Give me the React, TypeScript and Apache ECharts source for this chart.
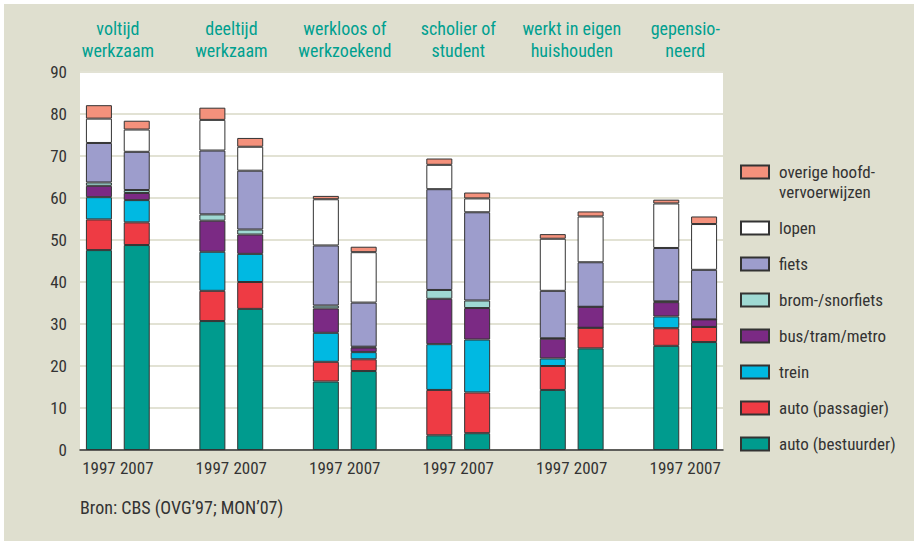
import React, { useEffect, useRef } from "react";
import * as echarts from "echarts";

const groupTitles = [
  "voltijd\nwerkzaam",
  "deeltijd\nwerkzaam",
  "werkloos of\nwerkzoekend",
  "scholier of\nstudent",
  "werkt in eigen\nhuishouden",
  "gepensio-\nneerd",
];
const years = ["1997", "2007"];

// bars: V97, V07, D97, D07, W97, W07, S97, S07, H97, H07, G97, G07
const autoBestuurder = [47.6, 48.8, 30.7, 33.6, 16.3, 18.8, 3.5, 4.0, 14.3, 24.2, 24.8, 25.7];
const autoPassagier = [7.3, 5.4, 7.2, 6.4, 4.7, 2.8, 10.8, 9.7, 5.7, 4.9, 4.2, 3.6];
const trein = [5.3, 5.3, 9.3, 6.7, 6.9, 1.7, 10.9, 12.6, 1.8, 0, 2.8, 0];
const busTramMetro = [2.7, 1.7, 7.4, 4.6, 5.8, 1.1, 10.8, 7.5, 4.7, 5.0, 3.4, 1.8];
const bromSnorfiets = [0.8, 0.7, 1.5, 1.2, 0.7, 0.2, 2.1, 1.8, 0.1, 0, 0.2, 0];
const fiets = [9.4, 9.1, 15.2, 14.0, 14.3, 10.5, 24.0, 21.0, 11.3, 10.6, 12.7, 11.8];
const lopen = [5.8, 5.3, 7.3, 5.7, 11.0, 12.0, 5.8, 3.3, 12.4, 10.9, 10.6, 10.9];
const overige = [3.2, 2.1, 2.9, 2.1, 0.8, 1.3, 1.5, 1.4, 1.1, 1.2, 0.9, 1.8];

const seriesDefs = [
  { name: "auto (bestuurder)", data: autoBestuurder, color: "#009b8e" },
  { name: "auto (passagier)", data: autoPassagier, color: "#ee3b44" },
  { name: "trein", data: trein, color: "#00b9e2" },
  { name: "bus/tram/metro", data: busTramMetro, color: "#7b2a84" },
  { name: "brom-/snorfiets", data: bromSnorfiets, color: "#9fd9d3" },
  { name: "fiets", data: fiets, color: "#9d9dcc" },
  { name: "lopen", data: lopen, color: "#ffffff" },
  { name: "overige hoofd-\nvervoerwijzen", data: overige, color: "#f4917c" },
];

const FONT = "'Liberation Sans Narrow', 'Roboto Condensed', 'DejaVu Sans Condensed', 'Liberation Sans', sans-serif";

// build category slots: 1997, 2007, gap, ...
const bottomCats: string[] = [];
const topCats: string[] = [];
groupTitles.forEach((t, g) => {
  bottomCats.push(years[0], years[1]);
  topCats.push(t, "");
  if (g < groupTitles.length - 1) {
    bottomCats.push("");
    topCats.push("");
  }
});

function expand(vals: number[]): (number | string)[] {
  const out: (number | string)[] = [];
  for (let g = 0; g < groupTitles.length; g++) {
    out.push(vals[2 * g], vals[2 * g + 1]);
    if (g < groupTitles.length - 1) out.push("-");
  }
  return out;
}

export default function App() {
  const ref = useRef<HTMLDivElement>(null);
  useEffect(() => {
    if (!ref.current) return;
    const chart = echarts.init(ref.current, null, { renderer: "svg" });
    const legendOrder = [...seriesDefs].reverse();
    chart.setOption({
      animation: false,
      backgroundColor: "#ffffff",
      textStyle: { fontFamily: FONT },
      graphic: [
        {
          type: "rect",
          z: -10,
          shape: { x: 4, y: 4, width: 910, height: 537 },
          style: { fill: "#dfdfcf" },
          silent: true,
        },
        {
          type: "text",
          left: 80,
          top: 498,
          style: {
            text: "Bron: CBS (OVG\u201997; MON\u201907)",
            fill: "#333333",
            font: `18px ${FONT}`,
          },
        },
      ],
      grid: {
        left: 80,
        top: 72,
        width: 643,
        height: 378,
        show: true,
        backgroundColor: "#ffffff",
        borderWidth: 0,
      },
      legend: {
        orient: "vertical",
        left: 740,
        top: 142,
        padding: 0,
        itemWidth: 28,
        itemHeight: 13,
        itemGap: 16,
        icon: "rect",
        selectedMode: false,
        formatter: (name: string) => (name.indexOf("\n") >= 0 ? "\n" + name : name),
        textStyle: {
          fontFamily: FONT,
          fontSize: 17,
          color: "#333333",
          lineHeight: 20,
          padding: [0, 0, 0, 5],
        },
        data: legendOrder.map((s) => ({ name: s.name })),
      },
      xAxis: [
        {
          type: "category",
          data: bottomCats,
          position: "bottom",
          axisLine: { lineStyle: { color: "#333333", width: 1.5 } },
          axisTick: { interval: 0, length: 6, lineStyle: { color: "#333333", width: 1.5 } },
          axisLabel: { interval: 0, margin: 9, fontSize: 17, color: "#333333", fontFamily: FONT },
          splitLine: { show: false },
        },
        {
          type: "category",
          data: topCats,
          position: "top",
          axisLine: { show: false },
          axisTick: { show: false },
          axisLabel: {
            interval: 0,
            margin: 11,
            fontSize: 18,
            lineHeight: 22,
            color: "#00a08f",
            fontFamily: FONT,
            padding: [0, 0, 0, 38],
          },
        },
      ],
      yAxis: {
        type: "value",
        min: 0,
        max: 90,
        interval: 10,
        axisLine: { show: false },
        axisTick: { show: false },
        axisLabel: { margin: 13, fontSize: 17, color: "#333333", fontFamily: FONT },
        splitLine: { lineStyle: { color: "#e2e2d4", width: 2 } },
      },
      series: seriesDefs.map((s) => ({
        name: s.name,
        type: "bar",
        stack: "total",
        barWidth: 26,
        xAxisIndex: 0,
        data: expand(s.data),
        itemStyle: { color: s.color, borderColor: "#333333", borderWidth: 1 },
      })),
    });
    return () => chart.dispose();
  }, []);
  return (
    <div
      ref={ref}
      style={{ position: "fixed", left: 0, top: 0, width: 921, height: 545 }}
    />
  );
}
